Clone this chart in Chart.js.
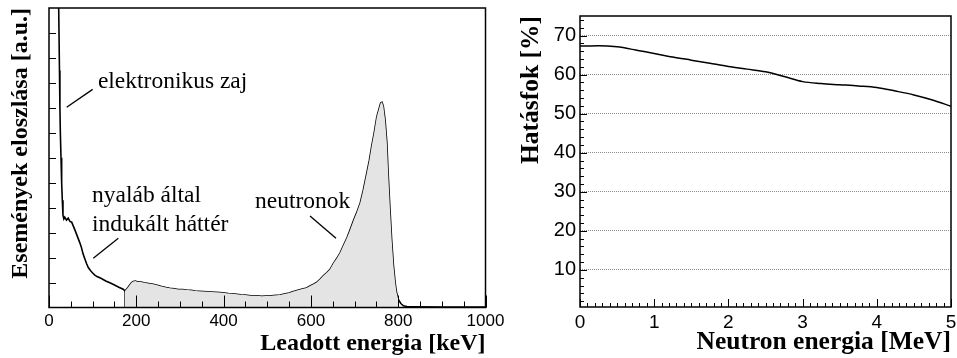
<!DOCTYPE html>
<html>
<head>
<meta charset="utf-8">
<script src="https://cdn.jsdelivr.net/npm/chart.js@4.4.1/dist/chart.umd.min.js"></script>
<style>
  html, body { margin: 0; padding: 0; background: #fff; }
  #wrap { position: relative; width: 957px; height: 358px; overflow: hidden; }
  canvas { position: absolute; top: 0; }
  #left { left: 0; }
  #right { left: 500px; }
</style>
</head>
<body>
<div id="wrap">
  <canvas id="left" width="510" height="358"></canvas>
  <canvas id="right" width="457" height="358"></canvas>
</div>
<script>
// ─── DATA ─────────────────────────────────────────────────────────────────────

// left panel: deposited energy spectrum (arbitrary units)
const energyKeV = [19, 22, 24, 25, 26, 27.5, 29, 30.5, 32, 34, 36, 40, 44, 48, 52, 56, 60, 65, 70, 74,
  78, 82, 86, 90, 95, 100, 105, 110, 119, 130, 142, 150, 160, 170, 174, 177, 181, 185, 189, 193,
  198, 203, 208, 218, 228, 239, 248, 258, 268, 277, 287, 296, 306, 315, 325, 335, 344, 353, 363, 372,
  382, 392, 402, 411, 421, 430, 440, 449, 458, 468, 477, 487, 496, 506, 515, 529, 539, 550, 560, 570,
  580, 590, 598, 606, 613, 621, 629, 637, 644, 652, 660, 667, 675, 683, 690, 698, 705, 713, 720, 728,
  734, 739, 745, 751, 756, 760, 763, 766, 770, 774, 777, 781, 785, 789, 793, 796, 800, 806, 812, 820,
  840, 900, 1000];
const counts = [40, 12.3, 9.5, 8.0, 7.0, 6.0, 5.0, 4.3, 3.7, 3.55, 3.62, 3.5, 3.58, 3.45, 3.42, 3.25, 3.08, 2.85, 2.62, 2.42,
  2.15, 1.95, 1.76, 1.6, 1.48, 1.38, 1.3, 1.24, 1.17, 1.06, 0.97, 0.9, 0.81, 0.73, 0.66, 0.72, 0.8, 0.9, 0.99, 1.04,
  1.06, 1.02, 1.03, 0.99, 0.96, 0.93, 0.89, 0.84, 0.8, 0.77, 0.75, 0.72, 0.72, 0.7, 0.69, 0.66, 0.65, 0.64, 0.63, 0.62,
  0.61, 0.6, 0.58, 0.56, 0.55, 0.53, 0.51, 0.5, 0.48, 0.46, 0.47, 0.45, 0.46, 0.46, 0.48, 0.5, 0.54, 0.58, 0.64, 0.69,
  0.74, 0.78, 0.86, 0.93, 1.0, 1.13, 1.28, 1.4, 1.53, 1.78, 1.98, 2.19, 2.5, 2.8, 3.12, 3.5, 3.8, 4.19, 4.7, 5.38,
  5.9, 6.44, 7.0, 7.64, 7.95, 8.2, 8.22, 8.05, 7.5, 6.6, 5.38, 4.0, 2.72, 1.7, 1.0, 0.62, 0.33, 0.16, 0.07, 0.04,
  0.03, 0.02, 0.02];
const fillFromKeV = 174;
const fillToKeV = 800;
const energyTicks = [0, 200, 400, 600, 800, 1000];

// right panel: detection efficiency vs neutron energy
const neutronMeV = [0, 0.25, 0.5, 0.75, 1, 1.25, 1.5, 1.75, 2, 2.25, 2.5, 2.75, 3, 3.25, 3.5, 3.75, 4, 4.25, 4.5, 4.75, 5];
const efficiency = [67.3, 67.4, 67.1, 66.3, 65.4, 64.5, 63.7, 62.9, 62.1, 61.4, 60.7, 59.5, 58.2, 57.7, 57.4, 57.1, 56.7, 55.8, 54.8, 53.5, 51.9];
const mevTicks = [0, 1, 2, 3, 4, 5];
const effTicks = [10, 20, 30, 40, 50, 60, 70];

// ─── HELPERS ──────────────────────────────────────────────────────────────────

const SANS = '"Liberation Sans", Arial, sans-serif';
const SERIF = '"Liberation Serif", "Times New Roman", serif';
Chart.defaults.color = '#000';

function range(from, to, step) {
  const out = [];
  for (let v = from; v <= to + 1e-9; v += step) out.push(+v.toFixed(4));
  return out;
}

// keep the plot frame where the layout padding puts it (no room for edge labels)
function noEdgePadding(height) {
  return s => { s.height = height; s.paddingLeft = 0; s.paddingRight = 0; };
}

// ROOT-style frame with ticks pointing inwards
const frameTicks = {
  id: 'frameTicks',
  afterDatasetsDraw(chart, args, opts) {
    const { ctx, chartArea: a, scales } = chart;
    ctx.save();
    ctx.strokeStyle = '#000';
    ctx.lineWidth = 1;
    (opts.marks || []).forEach(m => {
      const s = scales[m.axis];
      m.values.forEach(v => {
        const p = Math.round(s.getPixelForValue(v)) + 0.5;
        ctx.beginPath();
        if (m.axis === 'x') { ctx.moveTo(p, a.bottom); ctx.lineTo(p, a.bottom - m.len); }
        else { ctx.moveTo(a.left, p); ctx.lineTo(a.left + m.len, p); }
        ctx.stroke();
      });
    });
    ctx.lineWidth = 1.5;
    ctx.strokeRect(a.left, a.top, a.width, a.height);
    ctx.restore();
  }
};

// text labels with pointer lines, placed in data coordinates
const notes = {
  id: 'notes',
  afterDraw(chart, args, opts) {
    const { ctx, scales: { x, y } } = chart;
    ctx.save();
    ctx.font = opts.font;
    ctx.fillStyle = '#000';
    ctx.strokeStyle = '#000';
    ctx.lineWidth = 1.3;
    ctx.textBaseline = 'alphabetic';
    (opts.items || []).forEach(n => {
      n.lines.forEach((t, i) => {
        ctx.fillText(t, x.getPixelForValue(n.at[0]), y.getPixelForValue(n.at[1]) + i * n.lead);
      });
      ctx.beginPath();
      ctx.moveTo(x.getPixelForValue(n.from[0]), y.getPixelForValue(n.from[1]));
      ctx.lineTo(x.getPixelForValue(n.to[0]), y.getPixelForValue(n.to[1]));
      ctx.stroke();
    });
    ctx.restore();
  }
};

// ─── LEFT: energy spectrum ────────────────────────────────────────────────────

const spectrum = energyKeV.map((e, i) => ({ x: e, y: counts[i] }));
const shaded = spectrum.filter(p => p.x >= fillFromKeV && p.x <= fillToKeV);
const edge = [{ x: fillFromKeV, y: 0 }, shaded[0]];
const leftTitle = { family: SERIF, size: 24, weight: 'bold' };

new Chart(document.getElementById('left'), {
  type: 'line',
  data: {
    datasets: [
      { data: shaded, borderWidth: 0, pointRadius: 0, fill: 'origin', backgroundColor: '#e4e4e4' },
      { data: edge, borderColor: '#000', borderWidth: 1.2, pointRadius: 0, fill: false },
      { data: spectrum, borderColor: '#000', borderWidth: 1.6, pointRadius: 0, fill: false, tension: 0 }
    ]
  },
  options: {
    responsive: false,
    animation: false,
    layout: { padding: { top: 8, right: 24.5, left: 0, bottom: 0 } },
    plugins: {
      legend: { display: false },
      tooltip: { enabled: false },
      frameTicks: {
        marks: [
          { axis: 'x', values: range(0, 1000, 50), len: 6 },
          { axis: 'x', values: energyTicks, len: 12 },
          { axis: 'y', values: range(1, 11, 1), len: 7 }
        ]
      },
      notes: {
        font: '23.5px ' + SERIF,
        items: [
          { lines: ['elektronikus zaj'], at: [112, 8.78], lead: 0, from: [40.5, 8.02], to: [100, 8.74] },
          { lines: ['nyaláb által', 'indukált háttér'], at: [98.5, 4.24], lead: 29, from: [101.5, 1.97], to: [158.8, 2.77] },
          { lines: ['neutronok'], at: [472, 3.99], lead: 0, from: [598, 3.67], to: [657.5, 2.77] }
        ]
      }
    },
    scales: {
      x: {
        type: 'linear', min: 0, max: 1000,
        afterBuildTicks: s => { s.ticks = energyTicks.map(v => ({ value: v })); },
        afterFit: noEdgePadding(50.5),
        grid: { display: false, drawTicks: false },
        border: { display: false },
        ticks: { font: { family: SANS, size: 17 }, padding: 4, maxRotation: 0, callback: v => String(v) },
        title: { display: true, text: 'Leadott energia [keV]', align: 'end', font: leftTitle, padding: { bottom: 0 } }
      },
      y: {
        type: 'linear', min: 0, max: 12,
        afterFit: s => { s.width = 49; },
        grid: { display: false, drawTicks: false },
        border: { display: false },
        ticks: { display: false },
        title: { display: true, text: 'Események eloszlása [a.u.]', align: 'end', font: leftTitle, padding: { top: 6 } }
      }
    }
  },
  plugins: [frameTicks, notes]
});

// ─── RIGHT: efficiency ────────────────────────────────────────────────────────

const rightTitle = { family: SERIF, size: 25.5, weight: 'bold' };

new Chart(document.getElementById('right'), {
  type: 'line',
  data: {
    datasets: [{
      data: neutronMeV.map((e, i) => ({ x: e, y: efficiency[i] })),
      borderColor: '#000', borderWidth: 1.5, pointRadius: 0, fill: false,
      cubicInterpolationMode: 'monotone'
    }]
  },
  options: {
    responsive: false,
    animation: false,
    layout: { padding: { top: 8, right: 6, left: 0, bottom: 0 } },
    plugins: {
      legend: { display: false },
      tooltip: { enabled: false },
      frameTicks: {
        marks: [
          { axis: 'x', values: range(0, 5, 0.1), len: 4 },
          { axis: 'x', values: mevTicks, len: 8 },
          { axis: 'y', values: range(2, 74, 2), len: 4 },
          { axis: 'y', values: effTicks, len: 7 }
        ]
      }
    },
    scales: {
      x: {
        type: 'linear', min: 0, max: 5,
        afterBuildTicks: s => { s.ticks = mevTicks.map(v => ({ value: v })); },
        afterFit: noEdgePadding(51),
        grid: { display: false, drawTicks: false },
        border: { display: false },
        ticks: { font: { family: SANS, size: 19 }, padding: 4, maxRotation: 0 },
        title: { display: true, text: 'Neutron energia [MeV]', align: 'end', font: rightTitle, padding: { bottom: 0 } }
      },
      y: {
        type: 'linear', min: 0.5, max: 75,
        afterBuildTicks: s => { s.ticks = effTicks.map(v => ({ value: v })); },
        afterFit: s => { s.width = 80; },
        grid: { color: '#8a8a8a', lineWidth: 1, drawTicks: false },
        border: { display: false, dash: [1, 1] },
        ticks: { font: { family: SANS, size: 20 }, padding: 4 },
        title: { display: true, text: 'Hatásfok [%]', align: 'end', font: rightTitle, padding: { top: 16 } }
      }
    }
  },
  plugins: [frameTicks]
});
</script>
</body>
</html>
